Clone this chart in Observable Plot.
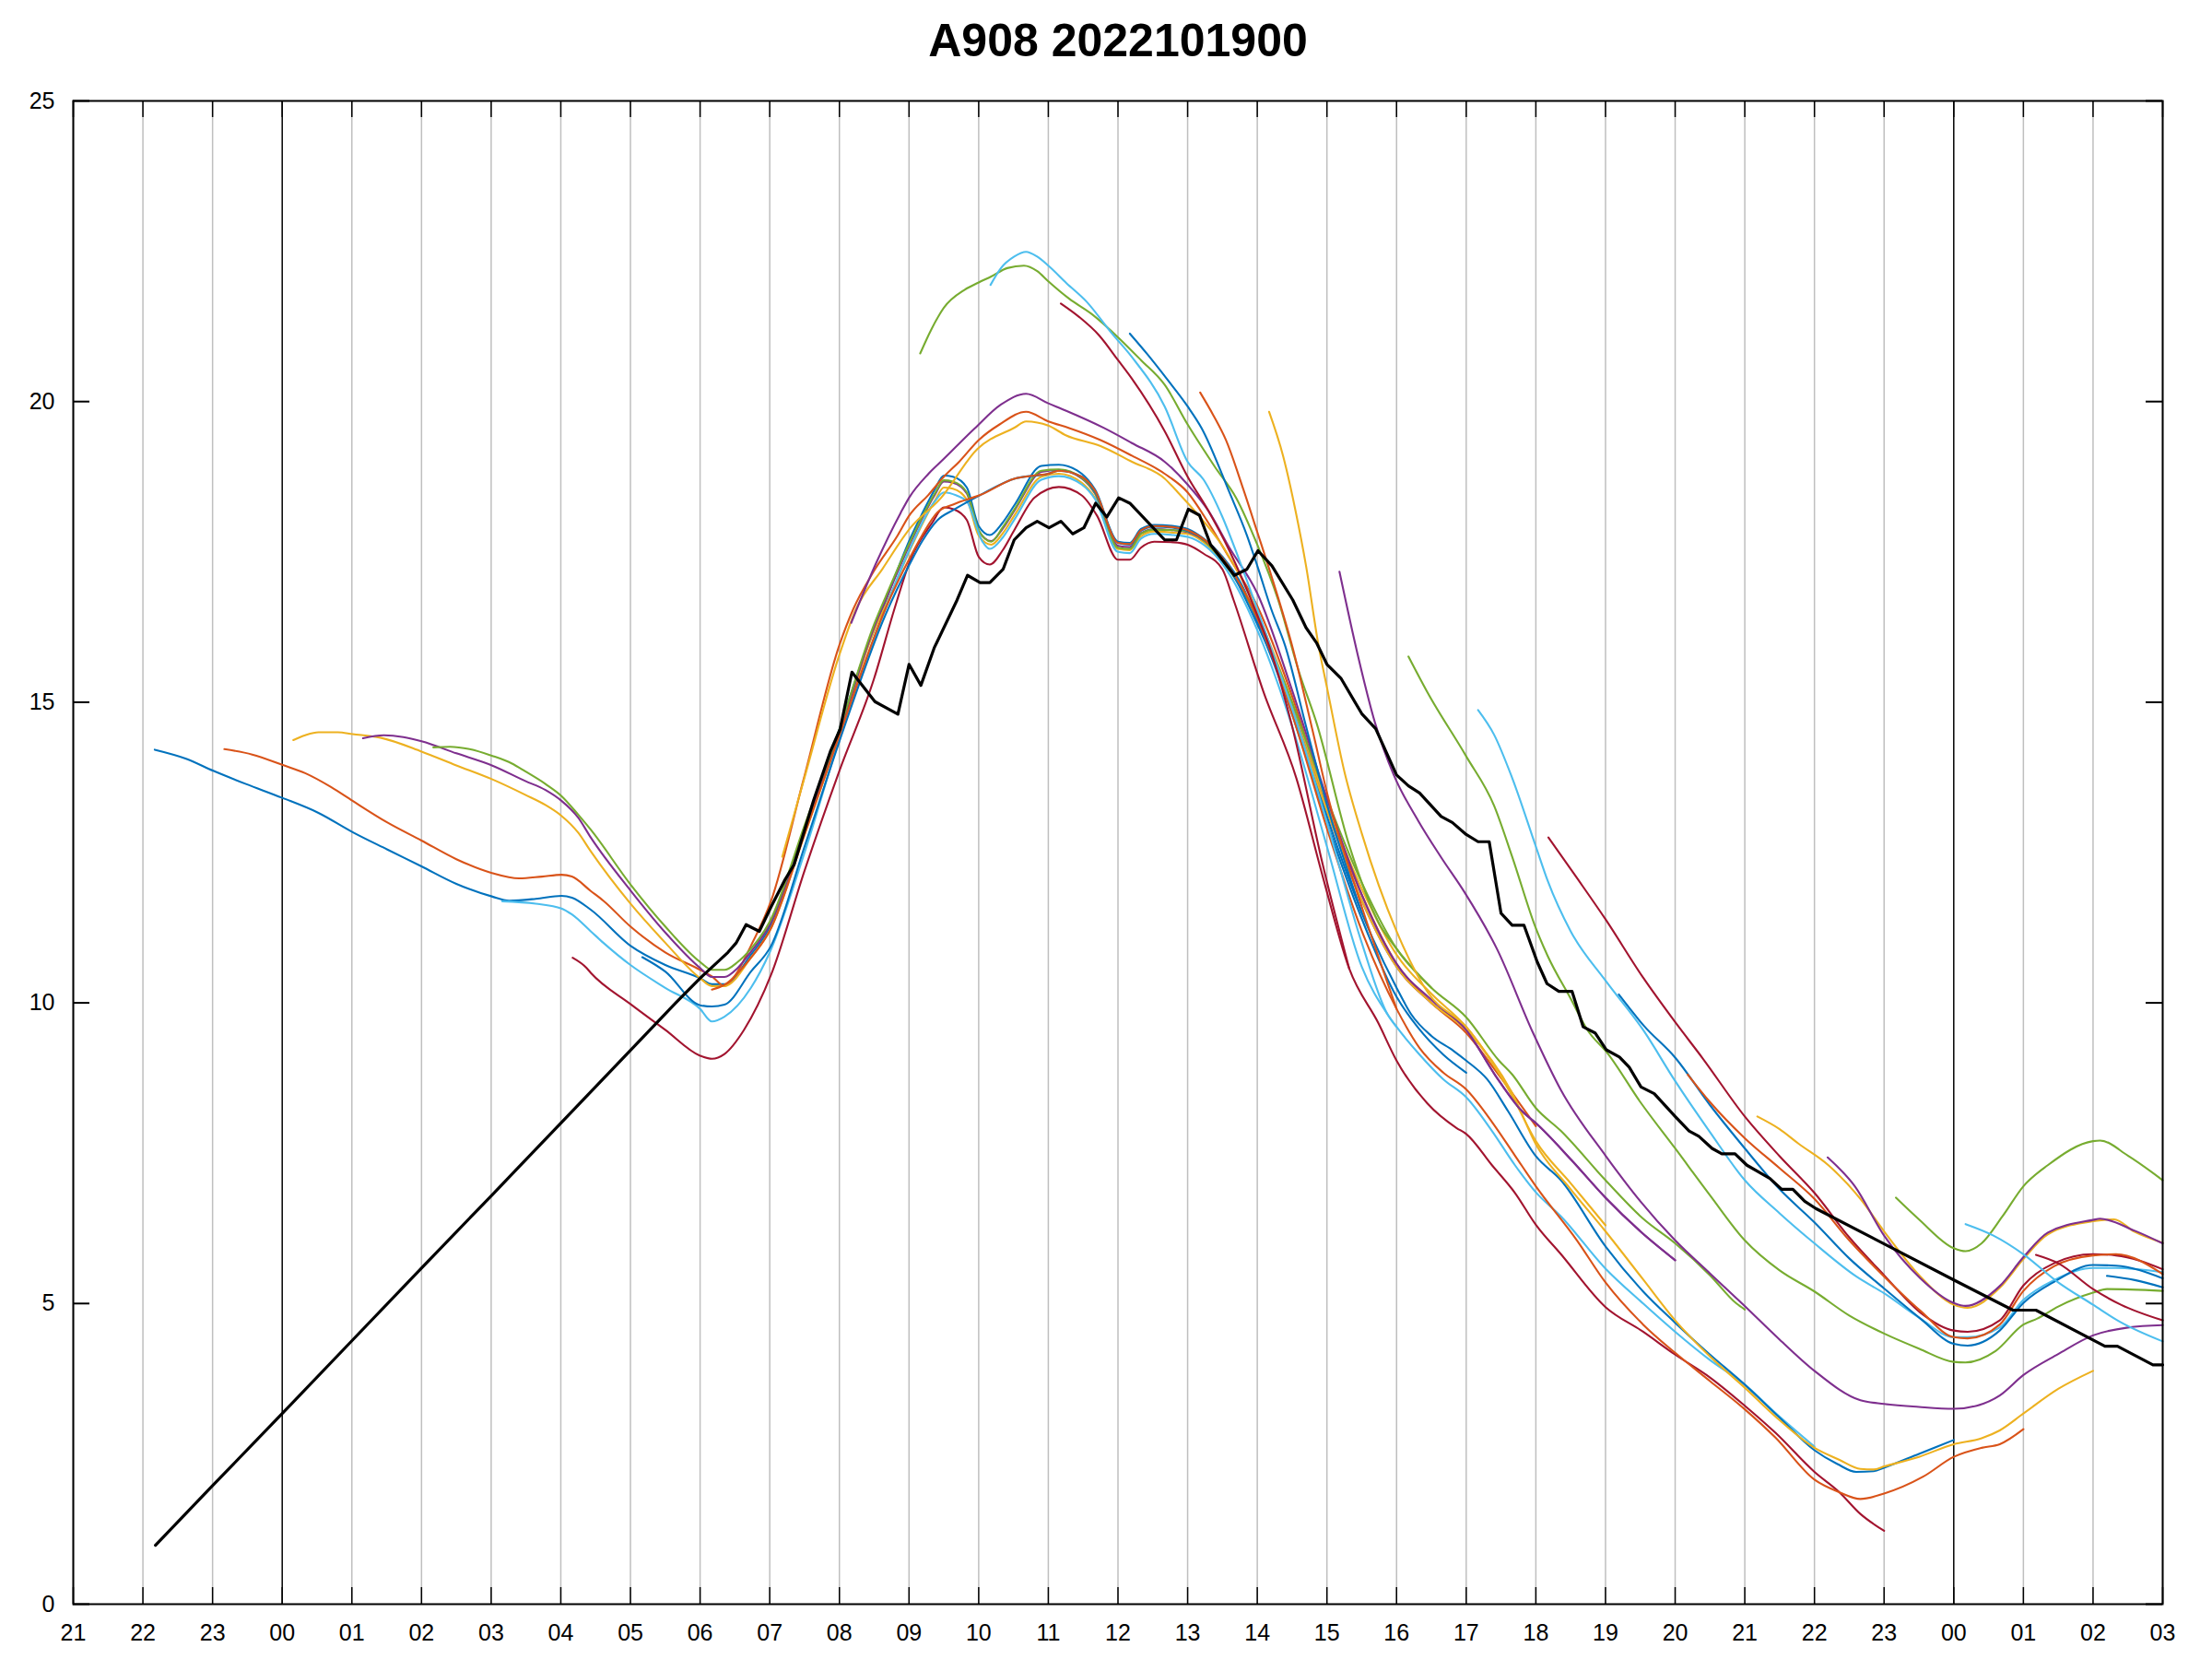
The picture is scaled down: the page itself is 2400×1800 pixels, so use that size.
<!DOCTYPE html>
<html><head><meta charset="utf-8">
<script src="https://cdn.jsdelivr.net/npm/d3@7"></script>
<script src="https://cdn.jsdelivr.net/npm/@observablehq/plot@0.6"></script>
<style>body{margin:0;background:#fff;}</style>
</head><body><div id="chart"></div>
<script>
const title = "A908 2022101900";
const hourTicks = d3.range(0, 31);
const hourLabels = ["21","22","23","00","01","02","03","04","05","06","07","08","09","10","11","12","13","14","15","16","17","18","19","20","21","22","23","00","01","02","03"];
const valueTicks = [0, 5, 10, 15, 20, 25];
const palette = ["#0072BD","#D95319","#EDB120","#7E2F8E","#77AC30","#4DBEEE","#A2142F"];

// forecast runs: [hour since 21:00, value]
const f00 = [[1.17,14.21],[1.62,14.06],[2.01,13.86],[2.48,13.64],[3.0,13.41],[3.52,13.16],[4.01,12.84],[4.51,12.55],[5.0,12.27],[5.5,11.98],[6.01,11.77],[6.26,11.7],[6.64,11.73],[7.01,11.78],[7.16,11.75],[7.43,11.55],[8.0,10.95],[8.5,10.63],[9.0,10.41],[9.17,10.31],[9.36,10.31],[9.73,10.8],[10.0,11.25],[10.5,12.85],[11.0,14.55],[11.3,15.6],[11.62,16.55],[11.84,17.22],[12.02,17.73],[12.19,18.14],[12.37,18.54],[12.5,18.77],[12.63,18.75],[12.83,18.57],[13.0,17.93],[13.16,17.78],[13.34,17.98],[13.52,18.29],[13.9,18.93],[14.15,18.95],[14.48,18.8],[14.67,18.54],[15.0,17.67],[15.17,17.65],[15.33,17.88],[15.52,17.95],[15.8,17.93],[16.0,17.88],[16.23,17.72],[16.5,17.42],[16.8,16.9],[17.0,16.35],[17.5,14.8],[18.0,13.0],[18.5,11.4],[19.0,10.1],[19.3,9.6],[19.67,9.14],[20.0,8.84]];
const f01 = [[2.17,14.22],[2.57,14.13],[3.0,13.96],[3.33,13.82],[3.7,13.59],[4.01,13.36],[4.51,13.0],[5.0,12.7],[5.5,12.39],[6.01,12.16],[6.4,12.07],[6.73,12.1],[7.01,12.13],[7.16,12.1],[7.43,11.86],[7.61,11.7],[8.0,11.27],[8.5,10.84],[9.0,10.55],[9.17,10.44],[9.35,10.28],[9.5,10.45],[9.73,10.95],[10.02,11.7],[10.48,13.69],[11.0,15.95],[11.2,16.55],[11.49,17.17],[11.84,17.78],[12.0,18.1],[12.28,18.45],[12.5,18.75],[12.72,19.0],[13.0,19.36],[13.3,19.62],[13.68,19.83],[14.0,19.67],[14.3,19.56],[14.75,19.36],[15.2,19.1],[15.67,18.8],[16.0,18.49],[16.3,17.98],[16.6,17.4],[17.0,16.6],[17.5,15.1],[18.0,13.3],[18.5,11.8],[19.0,10.65],[19.5,10.0],[20.0,9.5],[20.5,8.75],[21.0,7.95]];
const f02 = [[3.16,14.37],[3.33,14.45],[3.52,14.5],[3.8,14.5],[4.01,14.47],[4.41,14.41],[5.0,14.18],[5.5,13.95],[6.01,13.72],[6.49,13.46],[6.78,13.29],[7.01,13.11],[7.25,12.83],[7.43,12.52],[8.0,11.65],[8.5,11.0],[9.0,10.41],[9.17,10.28],[9.35,10.28],[9.73,10.75],[10.0,11.2],[10.5,12.8],[11.0,14.45],[11.5,16.2],[11.7,16.7],[12.02,17.55],[12.37,18.35],[12.5,18.57],[12.63,18.55],[12.83,18.37],[13.0,17.77],[13.18,17.62],[13.34,17.8],[13.52,18.12],[13.9,18.75],[14.15,18.8],[14.48,18.65],[14.67,18.4],[15.0,17.55],[15.17,17.53],[15.33,17.76],[15.52,17.84],[15.8,17.82],[16.0,17.8],[16.5,17.35],[17.0,16.45],[17.5,15.0],[18.0,13.3],[18.5,11.9],[19.0,10.8],[19.5,10.15],[20.0,9.6],[20.66,8.45],[21.0,7.7],[21.5,7.0],[22.0,6.3]];
const f03 = [[4.16,14.4],[4.46,14.45],[4.74,14.42],[5.0,14.35],[5.5,14.15],[6.01,13.95],[6.49,13.69],[6.78,13.54],[7.01,13.36],[7.25,13.08],[7.43,12.75],[8.0,11.87],[8.5,11.17],[9.0,10.58],[9.17,10.43],[9.35,10.43],[9.54,10.58],[9.73,10.85],[10.0,11.3],[10.5,12.9],[11.0,14.5],[11.5,16.25],[11.7,16.8],[12.02,17.65],[12.37,18.45],[12.5,18.67],[12.63,18.65],[12.83,18.47],[13.0,17.85],[13.18,17.68],[13.34,17.88],[13.52,18.2],[13.9,18.83],[14.15,18.86],[14.48,18.72],[14.67,18.47],[15.0,17.6],[15.17,17.58],[15.33,17.81],[15.52,17.88],[15.8,17.86],[16.0,17.83],[16.5,17.38],[17.0,16.4],[17.5,14.9],[18.0,13.2],[18.5,11.7],[19.0,10.6],[19.5,10.0],[20.0,9.55],[20.42,8.79],[20.8,8.2],[21.0,8.0],[21.5,7.4],[22.0,6.76],[22.5,6.2],[23.0,5.72]];
const f04 = [[5.17,14.25],[5.41,14.26],[5.69,14.22],[6.01,14.11],[6.3,13.98],[6.49,13.85],[6.78,13.64],[7.01,13.44],[7.25,13.13],[7.43,12.88],[8.0,11.97],[8.5,11.27],[9.0,10.68],[9.17,10.55],[9.35,10.55],[9.54,10.68],[9.73,10.9],[10.0,11.35],[10.5,12.95],[11.0,14.55],[11.5,16.3],[11.7,16.85],[12.02,17.68],[12.37,18.47],[12.5,18.69],[12.63,18.67],[12.83,18.49],[13.0,17.86],[13.18,17.67],[13.34,17.9],[13.52,18.22],[13.9,18.85],[14.15,18.87],[14.48,18.73],[14.67,18.48],[15.0,17.57],[15.17,17.55],[15.33,17.8],[15.52,17.87],[15.8,17.86],[16.0,17.84],[16.5,17.35],[17.0,16.4],[17.5,15.0],[18.0,13.4],[18.5,12.0],[19.0,10.9],[19.5,10.25],[20.0,9.76],[20.47,9.04],[20.66,8.81],[21.0,8.25],[21.36,7.87],[22.0,7.05],[22.54,6.41],[23.0,6.0],[23.5,5.47],[23.88,5.0],[24.0,4.9]];
const f05 = [[6.16,11.69],[6.64,11.65],[7.01,11.57],[7.16,11.47],[7.43,11.19],[7.61,11.0],[8.0,10.63],[8.5,10.25],[9.0,9.9],[9.17,9.69],[9.35,9.77],[9.73,10.25],[10.0,10.84],[10.5,12.5],[11.0,14.39],[11.5,16.05],[11.66,16.55],[12.02,17.57],[12.37,18.34],[12.5,18.49],[12.68,18.44],[12.83,18.34],[13.05,17.68],[13.16,17.55],[13.34,17.73],[13.52,18.05],[13.9,18.7],[14.15,18.76],[14.48,18.62],[14.67,18.38],[15.0,17.5],[15.17,17.48],[15.33,17.72],[15.52,17.8],[15.8,17.78],[16.0,17.75],[16.5,17.3],[17.0,16.2],[17.5,14.6],[18.0,12.6],[18.5,10.6],[18.87,9.81],[19.0,9.6],[19.33,9.14],[19.67,8.73],[20.0,8.43],[20.37,7.87],[20.7,7.3],[21.0,6.85],[21.36,6.45],[22.0,5.58],[22.54,5.0],[23.0,4.53],[23.5,4.06],[24.0,3.65],[24.44,3.18],[25.0,2.62]];
const f06 = [[7.17,10.75],[7.37,10.58],[7.43,10.5],[8.0,9.98],[8.5,9.55],[9.0,9.12],[9.17,9.07],[9.35,9.15],[9.63,9.55],[10.02,10.47],[10.5,12.2],[11.0,13.86],[11.5,15.4],[11.79,16.55],[12.02,17.37],[12.33,17.98],[12.5,18.24],[12.64,18.21],[12.83,18.03],[13.0,17.42],[13.16,17.29],[13.34,17.52],[13.52,17.88],[13.8,18.4],[14.15,18.58],[14.48,18.44],[14.7,18.1],[15.0,17.37],[15.17,17.37],[15.33,17.57],[15.52,17.67],[15.8,17.66],[16.0,17.62],[16.23,17.47],[16.5,17.21],[16.66,16.7],[17.09,15.17],[17.56,13.74],[17.94,12.1],[18.32,10.57],[18.74,9.66],[19.0,9.04],[19.44,8.33],[19.86,7.92],[20.0,7.82],[20.37,7.3],[20.7,6.84],[21.0,6.31],[21.36,5.82],[22.0,4.94],[22.54,4.53],[23.0,4.15],[23.5,3.77],[24.0,3.3],[24.44,2.85],[25.0,2.2],[25.36,1.86],[25.66,1.5],[26.0,1.22]];
const f07 = [[8.17,10.76],[8.5,10.52],[9.0,9.96],[9.17,9.94],[9.35,9.97],[9.73,10.52],[10.02,10.95],[10.5,12.6],[11.0,14.35],[11.66,16.45],[12.02,17.32],[12.19,17.68],[12.41,18.03],[12.64,18.2],[13.03,18.45],[13.52,18.72],[14.0,18.8],[14.15,18.85],[14.48,18.75],[14.67,18.5],[15.0,17.65],[15.17,17.62],[15.33,17.85],[15.52,17.92],[15.8,17.9],[16.0,17.85],[16.5,17.4],[17.0,16.3],[17.5,14.9],[18.0,13.1],[18.5,11.5],[19.0,10.25],[19.21,9.81],[19.5,9.45],[19.82,9.2],[20.0,9.04],[20.3,8.73],[20.6,8.2],[21.0,7.45],[21.36,7.05],[22.0,5.95],[22.54,5.2],[23.0,4.68],[23.5,4.15],[24.0,3.65],[24.5,3.1],[25.0,2.56],[25.33,2.33],[25.6,2.2],[25.85,2.21],[26.0,2.27],[26.5,2.5],[27.0,2.73]];
const f08 = [[9.17,10.22],[9.35,10.3],[9.73,10.75],[10.0,11.2],[10.5,12.8],[11.0,14.45],[11.66,16.55],[12.02,17.42],[12.19,17.78],[12.41,18.16],[12.64,18.29],[13.03,18.45],[13.52,18.72],[13.8,18.77],[14.0,18.8],[14.15,18.85],[14.48,18.75],[14.67,18.52],[15.0,17.65],[15.17,17.63],[15.33,17.86],[15.52,17.93],[15.8,17.91],[16.0,17.86],[16.5,17.4],[17.0,16.4],[17.5,14.8],[18.0,12.9],[18.5,11.2],[19.0,9.9],[19.33,9.25],[19.67,8.84],[20.0,8.56],[20.37,8.02],[20.7,7.46],[21.0,6.95],[21.59,6.05],[22.0,5.35],[22.54,4.65],[23.0,4.18],[23.5,3.71],[24.0,3.24],[24.44,2.77],[25.0,2.07],[25.36,1.86],[25.66,1.75],[26.0,1.84],[26.56,2.12],[27.0,2.45],[27.4,2.6],[27.66,2.66],[28.0,2.91]];
const f09 = [[10.18,12.43],[10.5,13.75],[11.0,15.79],[11.24,16.55],[11.62,17.22],[12.02,17.9],[12.46,18.4],[12.98,19.21],[13.52,19.57],[13.68,19.67],[14.0,19.6],[14.25,19.44],[14.75,19.26],[15.2,19.0],[15.67,18.72],[15.86,18.49],[16.14,18.13],[16.5,17.6],[17.0,16.5],[17.5,14.9],[18.0,13.2],[18.5,11.7],[19.0,10.6],[19.5,10.0],[20.0,9.55],[20.66,8.5],[21.0,7.65],[21.5,6.9],[22.0,6.2],[22.54,5.4],[23.0,4.72],[23.5,4.12],[24.0,3.6],[24.44,3.12],[25.0,2.6],[25.36,2.4],[25.66,2.25],[25.85,2.24],[26.0,2.29],[26.5,2.45],[27.0,2.66],[27.4,2.76],[27.66,2.89],[28.0,3.17],[28.5,3.58],[29.0,3.88]];
const f10 = [[11.17,16.32],[11.53,17.32],[11.88,18.15],[12.0,18.4],[12.28,18.8],[12.5,19.05],[12.64,19.21],[12.94,19.55],[13.32,19.95],[13.68,20.13],[14.0,19.97],[14.25,19.85],[14.8,19.56],[15.2,19.31],[15.67,19.0],[16.0,18.62],[16.3,18.18],[16.6,17.57],[17.0,16.81],[17.5,15.2],[18.0,13.4],[18.5,11.8],[19.0,10.65],[19.5,10.05],[20.0,9.55],[20.42,8.79],[20.8,8.2],[21.0,8.0],[21.5,7.4],[22.0,6.76],[22.5,6.2],[23.0,5.72]];
const f11 = [[12.16,20.8],[12.32,21.2],[12.5,21.56],[12.8,21.86],[13.0,21.98],[13.18,22.08],[13.41,22.22],[13.65,22.26],[13.84,22.17],[14.0,22.0],[14.3,21.71],[14.63,21.45],[15.0,21.07],[15.33,20.69],[15.67,20.28],[16.0,19.62],[16.4,18.9],[16.7,18.39],[17.0,17.62],[17.3,16.7],[17.6,15.5],[17.85,14.66],[18.32,12.62],[18.74,11.34],[19.0,10.9],[19.5,10.25]];
const f12 = [[13.17,21.94],[13.32,22.22],[13.51,22.41],[13.68,22.49],[13.84,22.41],[14.0,22.26],[14.26,21.97],[14.55,21.66],[14.9,21.15],[15.2,20.74],[15.67,19.92],[16.0,19.0],[16.23,18.7],[16.5,18.08],[16.74,17.37],[17.0,16.55],[17.26,15.7],[17.5,14.9],[18.0,13.0],[18.5,11.0],[18.87,9.81],[19.0,9.6]];
const f13 = [[14.18,21.63],[14.45,21.4],[14.73,21.1],[15.0,20.69],[15.2,20.38],[15.67,19.51],[16.0,18.75],[16.3,18.18],[16.6,17.52],[17.0,16.45],[17.17,15.94],[17.5,14.6],[17.94,12.3],[18.32,10.57]];
const f14 = [[15.17,21.13],[15.42,20.79],[15.7,20.38],[16.0,19.92],[16.2,19.56],[16.6,18.49],[16.85,17.78],[17.0,17.27],[17.2,16.55],[17.4,15.94],[17.7,14.6],[18.0,13.3],[18.5,11.5]];
const f15 = [[16.18,20.15],[16.37,19.77],[16.55,19.36],[16.8,18.54],[17.0,17.83],[17.2,17.11],[17.5,15.94],[17.8,14.5],[18.0,13.5],[18.5,11.6],[19.0,9.9]];
const f16 = [[17.17,19.83],[17.37,19.1],[17.55,18.18],[17.7,17.27],[17.88,15.94],[18.0,15.25],[18.25,13.85],[18.5,12.82],[19.0,11.19],[19.45,10.17],[20.0,9.6],[20.66,8.5]];
const f17 = [[18.18,17.17],[18.44,15.8],[18.69,14.66],[18.96,13.79],[19.31,13.03],[19.64,12.42],[19.97,11.85],[20.44,10.9],[20.96,9.5],[21.36,8.55],[22.0,7.46],[22.5,6.7],[23.0,6.05],[23.5,5.5],[23.96,5.0],[24.5,4.4],[25.0,3.88],[25.66,3.39],[26.0,3.33],[26.5,3.28],[27.0,3.25],[27.33,3.3],[27.66,3.47],[28.0,3.81],[28.5,4.16],[29.0,4.47],[29.5,4.6],[30.0,4.64]];
const f18 = [[19.17,15.76],[19.44,15.17],[20.0,14.1],[20.4,13.28],[20.66,12.43],[21.0,11.24],[21.17,10.78],[21.5,10.07],[21.74,9.55],[22.03,9.16],[22.5,8.35],[23.0,7.58],[23.5,6.8],[24.0,6.05],[24.5,5.55],[25.0,5.2],[25.5,4.8],[26.0,4.5],[26.5,4.25],[27.0,4.03],[27.17,4.02],[27.6,4.21],[28.0,4.65],[28.2,4.75],[28.5,4.95],[29.0,5.18],[29.2,5.24],[30.0,5.21]];
const f19 = [[20.17,14.87],[20.4,14.46],[20.66,13.74],[21.0,12.6],[21.17,12.03],[21.5,11.19],[22.0,10.37],[22.54,9.55],[23.0,8.7],[23.5,7.85],[24.0,7.05],[24.5,6.5],[25.0,6.0],[25.6,5.45],[26.0,5.17],[26.52,4.75],[27.0,4.44],[27.2,4.44],[27.66,4.6],[28.0,5.06],[28.44,5.39],[29.0,5.59],[29.33,5.59],[30.0,5.52]];
const f20 = [[21.18,12.75],[21.6,12.06],[22.0,11.39],[22.54,10.42],[23.0,9.68],[23.4,9.07],[24.0,8.11],[24.5,7.45],[25.0,6.84],[25.5,6.1],[26.0,5.47],[26.52,4.85],[27.0,4.55],[27.2,4.53],[27.66,4.72],[28.0,5.3],[28.44,5.67],[29.0,5.82],[29.33,5.8],[30.0,5.57]];
const f21 = [[22.19,10.14],[22.55,9.62],[23.0,9.09],[23.5,8.3],[24.0,7.58],[24.5,6.9],[25.0,6.35],[25.5,5.75],[26.0,5.25],[26.52,4.75],[27.0,4.33],[27.2,4.3],[27.66,4.55],[28.0,5.01],[28.44,5.36],[29.0,5.64],[29.33,5.63],[30.0,5.42]];
const f22 = [[23.18,8.81],[23.5,8.35],[24.0,7.75],[24.5,7.25],[25.0,6.74],[25.5,6.05],[26.0,5.45],[26.52,4.88],[27.0,4.44],[27.2,4.42],[27.66,4.65],[28.0,5.21],[28.44,5.62],[29.0,5.8],[29.33,5.82],[30.0,5.49]];
const f23 = [[24.18,8.11],[24.5,7.9],[24.77,7.66],[25.2,7.3],[25.66,6.74],[26.0,6.2],[26.52,5.45],[27.0,4.98],[27.2,4.93],[27.66,5.26],[28.0,5.74],[28.35,6.15],[29.0,6.37],[29.3,6.4],[29.6,6.19],[30.0,6.01]];
const f24 = [[25.19,7.43],[25.58,6.95],[26.0,6.13],[26.52,5.42],[27.0,5.01],[27.17,4.96],[27.66,5.29],[28.0,5.77],[28.35,6.18],[29.0,6.39],[29.1,6.41],[29.6,6.21],[30.0,6.0]];
const f25 = [[26.17,6.76],[26.5,6.4],[27.0,5.92],[27.17,5.87],[27.4,6.0],[27.7,6.45],[28.0,6.95],[28.35,7.3],[29.0,7.7],[29.1,7.71],[29.5,7.46],[30.0,7.05]];
const f26 = [[27.17,6.32],[27.57,6.13],[28.0,5.82],[28.49,5.36],[29.0,4.98],[29.38,4.7],[30.0,4.37]];
const f27 = [[28.18,5.81],[28.5,5.67],[29.0,5.24],[29.4,4.98],[30.0,4.72]];
const f28 = [[29.2,5.46],[29.6,5.39],[30.0,5.27]];

// observation
const obs = [[1.18,0.98],[2,1.97],[3,3.17],[4,4.38],[5,5.59],[6,6.79],[7,8.0],[7.99,9.2],[8.65,10.0],[9.0,10.41],[9.4,10.84],[9.52,11.0],[9.66,11.3],[9.85,11.19],[10.02,11.6],[10.21,12.03],[10.35,12.3],[10.63,13.37],[10.87,14.18],[11.01,14.55],[11.18,15.5],[11.51,15.01],[11.84,14.8],[12.0,15.63],[12.17,15.28],[12.36,15.9],[12.69,16.7],[12.84,17.11],[13.02,16.99],[13.16,16.99],[13.35,17.21],[13.51,17.7],[13.68,17.9],[13.84,18.01],[14.01,17.9],[14.18,18.01],[14.35,17.8],[14.51,17.9],[14.68,18.31],[14.84,18.08],[15.01,18.4],[15.17,18.31],[15.67,17.7],[15.84,17.7],[16.01,18.21],[16.17,18.11],[16.33,17.62],[16.67,17.11],[16.85,17.21],[17.01,17.52],[17.21,17.27],[17.51,16.7],[17.7,16.24],[17.85,15.99],[18.0,15.63],[18.2,15.4],[18.5,14.81],[18.7,14.56],[19.0,13.79],[19.17,13.61],[19.33,13.49],[19.64,13.1],[19.8,13.0],[20.0,12.8],[20.17,12.68],[20.33,12.68],[20.5,11.49],[20.66,11.29],[20.83,11.29],[21.02,10.68],[21.16,10.32],[21.33,10.19],[21.52,10.19],[21.68,9.6],[21.85,9.5],[22.01,9.22],[22.2,9.1],[22.34,8.93],[22.51,8.6],[22.7,8.49],[23.0,8.11],[23.2,7.87],[23.34,7.78],[23.53,7.58],[23.67,7.49],[23.86,7.49],[24.03,7.3],[24.36,7.08],[24.53,6.9],[24.69,6.9],[24.86,6.7],[25.02,6.58],[26.02,5.98],[27.02,5.38],[27.85,4.89],[28.18,4.89],[29.17,4.29],[29.35,4.29],[29.86,3.98],[30.0,3.98]];

const forecasts = [f00,f01,f02,f03,f04,f05,f06,f07,f08,f09,f10,f11,f12,f13,f14,f15,f16,f17,f18,f19,f20,f21,f22,f23,f24,f25,f26,f27,f28];

const W = 2400, H = 1800, mL = 79, mR = 54, mT = 109, mB = 60;
const innerW = W - mL - mR, innerH = H - mT - mB;
const tickLen = 18;
const isMidnight = h => hourLabels[h] === "00";

const chart = Plot.plot({
  width: W, height: H,
  marginLeft: mL, marginRight: mR, marginTop: mT, marginBottom: mB,
  style: {fontFamily: "'Liberation Sans', Arial, sans-serif", background: "#fff", color: "#000"},
  x: {domain: [0, 30]},
  y: {domain: [0, 25]},
  marks: [
    Plot.ruleX(hourTicks.filter(h => !isMidnight(h)), {x: d => d, stroke: "#bfbfbf", strokeWidth: 1.5}),
    Plot.ruleX(hourTicks.filter(isMidnight), {x: d => d, stroke: "#000", strokeWidth: 1.5}),
    ...forecasts.map((f, k) => Plot.line(f, {x: d => d[0], y: d => d[1], stroke: palette[k % 7], strokeWidth: 2.1, curve: "monotone-x"})),
    Plot.line(obs, {x: d => d[0], y: d => d[1], stroke: "#000", strokeWidth: 3.2}),
    Plot.tickY(valueTicks, {y: d => d, insetRight: innerW - tickLen, stroke: "#000", strokeWidth: 2}),
    Plot.tickY(valueTicks, {y: d => d, insetLeft: innerW - tickLen, stroke: "#000", strokeWidth: 2}),
    Plot.tickX(hourTicks, {x: d => d, insetTop: innerH - tickLen, stroke: "#000", strokeWidth: 1.5}),
    Plot.tickX(hourTicks, {x: d => d, insetBottom: innerH - tickLen, stroke: "#000", strokeWidth: 1.5}),
    Plot.frame({stroke: "#000", strokeWidth: 2}),
    Plot.axisX(hourTicks, {tickFormat: h => hourLabels[h], tickSize: 0, tickPadding: 22, fontSize: 25, label: null}),
    Plot.axisY(valueTicks, {tickFormat: d => String(d), tickSize: 0, tickPadding: 20, fontSize: 25, label: null}),
    Plot.text([title], {frameAnchor: "top", lineAnchor: "middle", dy: -65, fontSize: 50, fontWeight: "bold"})
  ]
});
document.getElementById("chart").appendChild(chart);
</script>
</body></html>
